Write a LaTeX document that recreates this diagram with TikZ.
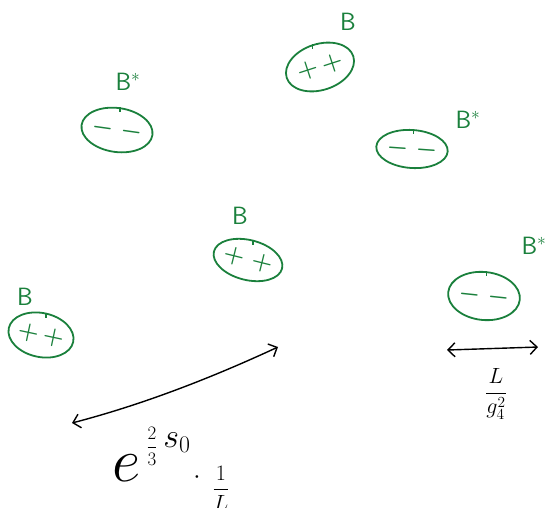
\RequirePackage{fix-cm}
\documentclass[tikz,border=0pt]{standalone}
\usepackage{tikz}
\usetikzlibrary{shapes.geometric,arrows.meta}
\definecolor{inkgreen}{RGB}{26,128,60}
\begin{document}
\begin{tikzpicture}[x=1pt,y=-1pt,
  blob/.style={ellipse,draw=inkgreen,line width=1.8pt,text=inkgreen,inner sep=0pt,font=\fontsize{24}{24}\selectfont\boldmath},
  lab/.style={text=inkgreen,inner sep=0pt,font=\fontsize{25}{25}\selectfont\sffamily},
  tick/.style={draw=inkgreen,line width=1.5pt},
  arr/.style={line width=1.4pt,{Straight Barb[length=7pt,width=14pt]}-{Straight Barb[length=7pt,width=14pt]}},
  mtext/.style={inner sep=0pt}]
\useasboundingbox (0,0) rectangle (547,507);
% bound states
\node[blob,minimum width=59pt,minimum height=44pt,rotate=-12] (b1) at (41,335) {$+\,+$};
\node[blob,minimum width=68pt,minimum height=40pt,rotate=-14] (b2) at (248,260) {$+\;+$};
\node[blob,minimum width=69pt,minimum height=44pt,rotate=-8] (b3) at (117,130) {$-\;-$};
\node[blob,minimum width=70pt,minimum height=46pt,rotate=18] (b4) at (320,67) {$+\,+$};
\node[blob,minimum width=71pt,minimum height=38pt,rotate=-4] (b5) at (412,149) {$-\;-$};
\node[blob,minimum width=72pt,minimum height=48pt,rotate=-6] (b6) at (484,296) {$-\;-$};
\foreach \b in {b1,b2,b3,b4,b5,b6}{\draw[tick] (\b.north) -- ++(0,5);}
% labels
\node[lab] (l1) at (25,297) {B};
\node[lab] (l2) at (240,216) {B};
\node[lab] (l3) at (128,82) {B$^{\ast}$};
\node[lab] (l4) at (348,22) {B};
\node[lab] (l5) at (468,120) {B$^{\ast}$};
\node[lab] (l6) at (534,246) {B$^{\ast}$};
% arrows
\coordinate (a1) at (72,423);
\coordinate (a2) at (278,347);
\draw[arr] (a1) .. controls (141,405) and (209,379) .. (a2);
\coordinate (c1) at (447,350);
\coordinate (c2) at (538,347);
\draw[arr] (c1) .. controls (492,349) .. (c2);
% formulas
\node[mtext,font=\fontsize{62}{62}\selectfont] (e) at (127,468) {$e$};
\node[mtext,font=\fontsize{19}{19}\selectfont] (fr) at (152,446) {$\displaystyle\frac{2}{3}$};
\node[mtext,font=\fontsize{34}{34}\selectfont] (ex) at (177,443) {$s_0$};
\node[mtext,font=\fontsize{26}{26}\selectfont] (dot) at (197,478) {$\cdot$};
\node[mtext,font=\fontsize{22}{22}\selectfont] (inv) at (221,488) {$\displaystyle\frac{1}{L}$};
\node[mtext,font=\fontsize{22}{22}\selectfont] (lg) at (496,394) {$\displaystyle\frac{L}{g_4^2}$};
\end{tikzpicture}
\end{document}
